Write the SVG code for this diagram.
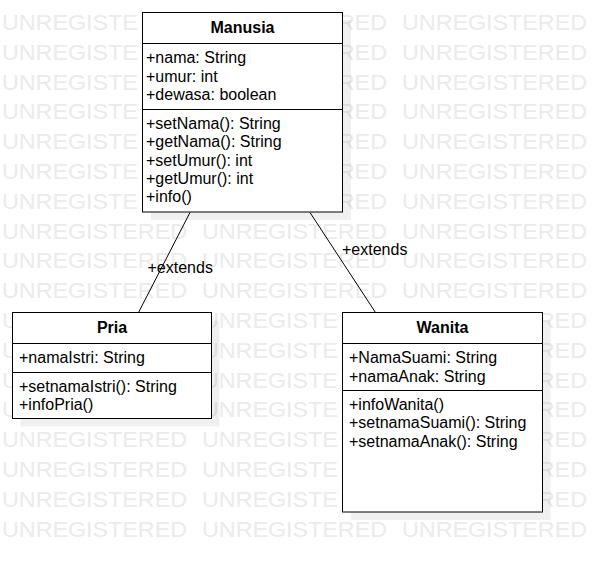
<svg xmlns="http://www.w3.org/2000/svg" width="592" height="562" viewBox="0 0 592 562">
<style>
.wm{font-family:"Liberation Sans",Arial,sans-serif;font-size:21.5px;fill:#ebebeb}
.box{fill:#fff;stroke:#000;stroke-width:1}
.sh{fill:#000;fill-opacity:0.06}
.div{stroke:#000;stroke-width:1}
.t{font-family:"Liberation Sans",Arial,sans-serif;font-size:16px;fill:#000}
.b{font-family:"Liberation Sans",Arial,sans-serif;font-size:16px;font-weight:bold;fill:#000;text-anchor:middle}
.ln{stroke:#000;stroke-width:1;fill:none}
</style>
<rect width="592" height="562" fill="#fff"/>
<g id="watermark" lengthAdjust="spacingAndGlyphs">
<text class="wm" x="2" y="30" textLength="135.8" lengthAdjust="spacingAndGlyphs">UNREGISTE</text><text class="wm" x="337.8" y="30" textLength="49.2" lengthAdjust="spacingAndGlyphs">RED</text><text class="wm" x="402" y="30" textLength="185" lengthAdjust="spacingAndGlyphs">UNREGISTERED</text>
<text class="wm" x="2" y="59.8" textLength="135.8" lengthAdjust="spacingAndGlyphs">UNREGISTE</text><text class="wm" x="337.8" y="59.8" textLength="49.2" lengthAdjust="spacingAndGlyphs">RED</text><text class="wm" x="402" y="59.8" textLength="185" lengthAdjust="spacingAndGlyphs">UNREGISTERED</text>
<text class="wm" x="2" y="89.6" textLength="135.8" lengthAdjust="spacingAndGlyphs">UNREGISTE</text><text class="wm" x="337.8" y="89.6" textLength="49.2" lengthAdjust="spacingAndGlyphs">RED</text><text class="wm" x="402" y="89.6" textLength="185" lengthAdjust="spacingAndGlyphs">UNREGISTERED</text>
<text class="wm" x="2" y="119.4" textLength="135.8" lengthAdjust="spacingAndGlyphs">UNREGISTE</text><text class="wm" x="337.8" y="119.4" textLength="49.2" lengthAdjust="spacingAndGlyphs">RED</text><text class="wm" x="402" y="119.4" textLength="185" lengthAdjust="spacingAndGlyphs">UNREGISTERED</text>
<text class="wm" x="2" y="149.2" textLength="135.8" lengthAdjust="spacingAndGlyphs">UNREGISTE</text><text class="wm" x="337.8" y="149.2" textLength="49.2" lengthAdjust="spacingAndGlyphs">RED</text><text class="wm" x="402" y="149.2" textLength="185" lengthAdjust="spacingAndGlyphs">UNREGISTERED</text>
<text class="wm" x="2" y="179" textLength="135.8" lengthAdjust="spacingAndGlyphs">UNREGISTE</text><text class="wm" x="337.8" y="179" textLength="49.2" lengthAdjust="spacingAndGlyphs">RED</text><text class="wm" x="402" y="179" textLength="185" lengthAdjust="spacingAndGlyphs">UNREGISTERED</text>
<text class="wm" x="2" y="208.8" textLength="135.8" lengthAdjust="spacingAndGlyphs">UNREGISTE</text><text class="wm" x="337.8" y="208.8" textLength="49.2" lengthAdjust="spacingAndGlyphs">RED</text><text class="wm" x="402" y="208.8" textLength="185" lengthAdjust="spacingAndGlyphs">UNREGISTERED</text>
<text class="wm" x="2" y="238.6" textLength="185" lengthAdjust="spacingAndGlyphs">UNREGISTERED</text><text class="wm" x="202" y="238.6" textLength="185" lengthAdjust="spacingAndGlyphs">UNREGISTERED</text><text class="wm" x="402" y="238.6" textLength="185" lengthAdjust="spacingAndGlyphs">UNREGISTERED</text>
<text class="wm" x="2" y="268.4" textLength="185" lengthAdjust="spacingAndGlyphs">UNREGISTERED</text><text class="wm" x="202" y="268.4" textLength="185" lengthAdjust="spacingAndGlyphs">UNREGISTERED</text><text class="wm" x="402" y="268.4" textLength="185" lengthAdjust="spacingAndGlyphs">UNREGISTERED</text>
<text class="wm" x="2" y="298.2" textLength="185" lengthAdjust="spacingAndGlyphs">UNREGISTERED</text><text class="wm" x="202" y="298.2" textLength="185" lengthAdjust="spacingAndGlyphs">UNREGISTERED</text><text class="wm" x="402" y="298.2" textLength="185" lengthAdjust="spacingAndGlyphs">UNREGISTERED</text>
<text class="wm" x="2" y="328" textLength="16.8" lengthAdjust="spacingAndGlyphs">U</text><text class="wm" x="202" y="328" textLength="135.8" lengthAdjust="spacingAndGlyphs">UNREGISTE</text><text class="wm" x="537.8" y="328" textLength="49.2" lengthAdjust="spacingAndGlyphs">RED</text>
<text class="wm" x="2" y="357.8" textLength="16.8" lengthAdjust="spacingAndGlyphs">U</text><text class="wm" x="202" y="357.8" textLength="135.8" lengthAdjust="spacingAndGlyphs">UNREGISTE</text><text class="wm" x="537.8" y="357.8" textLength="49.2" lengthAdjust="spacingAndGlyphs">RED</text>
<text class="wm" x="2" y="387.6" textLength="16.8" lengthAdjust="spacingAndGlyphs">U</text><text class="wm" x="202" y="387.6" textLength="135.8" lengthAdjust="spacingAndGlyphs">UNREGISTE</text><text class="wm" x="537.8" y="387.6" textLength="49.2" lengthAdjust="spacingAndGlyphs">RED</text>
<text class="wm" x="2" y="417.4" textLength="16.8" lengthAdjust="spacingAndGlyphs">U</text><text class="wm" x="202" y="417.4" textLength="135.8" lengthAdjust="spacingAndGlyphs">UNREGISTE</text><text class="wm" x="537.8" y="417.4" textLength="49.2" lengthAdjust="spacingAndGlyphs">RED</text>
<text class="wm" x="2" y="447.2" textLength="185" lengthAdjust="spacingAndGlyphs">UNREGISTERED</text><text class="wm" x="202" y="447.2" textLength="135.8" lengthAdjust="spacingAndGlyphs">UNREGISTE</text><text class="wm" x="537.8" y="447.2" textLength="49.2" lengthAdjust="spacingAndGlyphs">RED</text>
<text class="wm" x="2" y="477" textLength="185" lengthAdjust="spacingAndGlyphs">UNREGISTERED</text><text class="wm" x="202" y="477" textLength="135.8" lengthAdjust="spacingAndGlyphs">UNREGISTE</text><text class="wm" x="537.8" y="477" textLength="49.2" lengthAdjust="spacingAndGlyphs">RED</text>
<text class="wm" x="2" y="506.8" textLength="185" lengthAdjust="spacingAndGlyphs">UNREGISTERED</text><text class="wm" x="202" y="506.8" textLength="135.8" lengthAdjust="spacingAndGlyphs">UNREGISTE</text><text class="wm" x="537.8" y="506.8" textLength="49.2" lengthAdjust="spacingAndGlyphs">RED</text>
<text class="wm" x="2" y="536.6" textLength="185" lengthAdjust="spacingAndGlyphs">UNREGISTERED</text><text class="wm" x="202" y="536.6" textLength="185" lengthAdjust="spacingAndGlyphs">UNREGISTERED</text><text class="wm" x="402" y="536.6" textLength="185" lengthAdjust="spacingAndGlyphs">UNREGISTERED</text>
</g>
<g id="connectors">
<line class="ln" x1="190" y1="212.5" x2="138.5" y2="312.5"/>
<line class="ln" x1="310" y1="212.5" x2="375.5" y2="312.5"/>
<text class="t" x="147.5" y="273">+extends</text>
<text class="t" x="342" y="255">+extends</text>
</g>
<g id="manusia">
<rect class="sh" x="151" y="20" width="200" height="200"/>
<rect class="box" x="142.5" y="12.5" width="200" height="199.5"/>
<line class="div" x1="142.5" y1="43.5" x2="342.5" y2="43.5"/>
<line class="div" x1="142.5" y1="109.5" x2="342.5" y2="109.5"/>
<text class="b" x="242.5" y="32.5">Manusia</text>
<text class="t" x="146" y="63">+nama: String</text>
<text class="t" x="146" y="81.5">+umur: int</text>
<text class="t" x="146" y="99.5">+dewasa: boolean</text>
<text class="t" x="146" y="129">+setNama(): String</text>
<text class="t" x="146" y="147">+getNama(): String</text>
<text class="t" x="146" y="165.5">+setUmur(): int</text>
<text class="t" x="146" y="184">+getUmur(): int</text>
<text class="t" x="146" y="202">+info()</text>
</g>
<g id="pria">
<rect class="sh" x="20.5" y="320.5" width="199" height="106"/>
<rect class="box" x="12.5" y="312.5" width="199" height="106"/>
<line class="div" x1="12.5" y1="343.5" x2="211.5" y2="343.5"/>
<line class="div" x1="12.5" y1="372.5" x2="211.5" y2="372.5"/>
<text class="b" x="112" y="333">Pria</text>
<text class="t" x="19" y="363">+namaIstri: String</text>
<text class="t" x="19" y="391.5">+setnamaIstri(): String</text>
<text class="t" x="19" y="409.5">+infoPria()</text>
</g>
<g id="wanita">
<rect class="sh" x="350.5" y="320.5" width="200" height="199.5"/>
<rect class="box" x="342.5" y="312.5" width="200" height="199.5"/>
<line class="div" x1="342.5" y1="343.5" x2="542.5" y2="343.5"/>
<line class="div" x1="342.5" y1="390.5" x2="542.5" y2="390.5"/>
<text class="b" x="442.5" y="333">Wanita</text>
<text class="t" x="349" y="363">+NamaSuami: String</text>
<text class="t" x="349" y="381.5">+namaAnak: String</text>
<text class="t" x="349" y="409.5">+infoWanita()</text>
<text class="t" x="349" y="428">+setnamaSuami(): String</text>
<text class="t" x="349" y="446.5">+setnamaAnak(): String</text>
</g>
</svg>
